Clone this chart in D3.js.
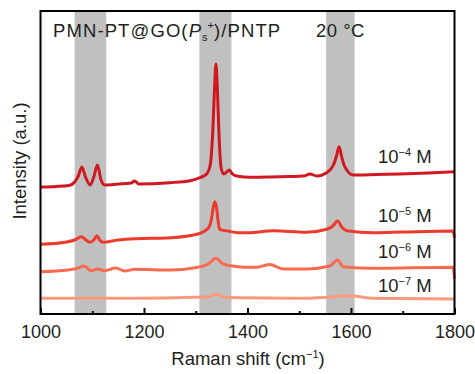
<!DOCTYPE html>
<html>
<head>
<meta charset="utf-8">
<script src="https://cdn.jsdelivr.net/npm/d3@7"></script>
<style>
  body { margin: 0; background: #fff; }
  svg { display: block; font-family: "Liberation Sans", Arial, sans-serif; }
  text { fill: #231f20; }
</style>
</head>
<body>
<svg id="chart" width="475" height="374"></svg>
<script>
// Raman shift (cm-1) and intensity (a.u., stacked offsets)
const shift4 = [1000,1030,1055,1066,1073,1080,1087,1096,1103,1110,1117,1124,1150,1175,1182,1190,1250,1289,1308,1321,1328,1333,1336,1339,1342,1345,1349,1354,1360,1365,1371,1379,1405,1444,1480,1508,1521,1534,1553,1566,1572,1577,1582,1588,1604,1650,1695,1750,1800]
const int4   = [127,127.5,128.5,132,138,147,137,129,137,149,134,129,130,131,133,130,131.3,133.3,136.3,140,149,184,222,250,222,179,146,140,142,144,140,138,136.7,137,137.5,138,140,138,141.3,149,158,167.3,157,147.3,139,139.5,140,141,142.3]

const shift5 = [1000,1047,1066,1079,1088,1095,1103,1109,1115,1121,1150,1182,1253,1304,1324,1330,1334,1337,1340,1343,1346,1362,1382,1401,1450,1514,1553,1565,1574,1582,1592,1643,1700,1797,1800]
const int5   = [69.7,71.7,74,77.3,74,71.7,74,78.3,73.5,71.7,74,75.3,76.3,80,85.7,94,107,112.3,107,94,84.7,83,81.3,81.3,83.3,81.7,84.7,88,93,87,83.3,81.3,82,83,76]

const shift6 = [1000,1053,1072,1084,1098,1111,1124,1145,1163,1182,1253,1298,1324,1339,1353,1382,1401,1418,1443,1469,1514,1559,1574,1585,1643,1797,1800]
const int6   = [42.3,44,45.7,48,43.3,45,43.3,46,43,44.7,44,46.3,50,55.7,50,47.3,46.7,46.7,49.5,45,45,48,54,47.3,45.7,46.7,35]

const shift7 = [1000,1184,1298,1324,1339,1353,1385,1514,1553,1585,1604,1643,1800]
const int7   = [15.7,15.7,16.7,17.3,19.7,17.3,16.3,15.7,16.7,18,18,15.7,15]

const seriesNames = ['−4', '−5', '−6', '−7']
const seriesColors = ['#cf1820', '#ec3a2d', '#f86b50', '#fc9a80']
const labelBaselines = [163, 222, 258, 292]   // label positions (px)

// shaded band ranges (cm-1)
const bands = [[1066, 1127], [1307, 1369], [1552, 1607]]
const majorTicks = [1000, 1200, 1400, 1600, 1800]
const minorTicks = [1100, 1300, 1500, 1700]

const L = 40.5, R = 454.5, T = 11, B = 314
const svg = d3.select('#chart')
const x = d3.scaleLinear().domain([1000, 1800]).range([L, R])
const y = d3.scaleLinear().domain([0, 303]).range([B, T])

// bands
svg.append('g').selectAll('rect').data(bands).enter().append('rect')
  .attr('x', d => x(d[0])).attr('width', d => x(d[1]) - x(d[0]))
  .attr('y', T).attr('height', B - T)
  .attr('fill', '#c0c0c0')

// spectra
const series = [[shift4, int4], [shift5, int5], [shift6, int6], [shift7, int7]]
const line = d3.line().x(d => x(d[0])).y(d => y(d[1])).curve(d3.curveMonotoneX)
svg.append('g').selectAll('path').data(series).enter().append('path')
  .attr('d', d => line(d[0].map((s, i) => [s, d[1][i]])))
  .attr('fill', 'none')
  .attr('stroke', (d, i) => seriesColors[i])
  .attr('stroke-width', 3)
  .attr('stroke-linejoin', 'round')

// axes (inward ticks)
const gx = svg.append('g').attr('transform', `translate(0,${B})`)
  .call(d3.axisBottom(x).tickValues(majorTicks).tickFormat(d3.format('d')).tickSizeInner(-6).tickSizeOuter(0).tickPadding(11))
gx.select('.domain').remove()
gx.selectAll('line').attr('stroke', '#000').attr('stroke-width', 2)
gx.selectAll('text').attr('font-size', 18).attr('fill', '#231f20').style('font-family', '"Liberation Sans", Arial, sans-serif')
const gm = svg.append('g').attr('transform', `translate(0,${B})`)
  .call(d3.axisBottom(x).tickValues(minorTicks).tickFormat('').tickSizeInner(-3).tickSizeOuter(0))
gm.select('.domain').remove()
gm.selectAll('line').attr('stroke', '#000').attr('stroke-width', 2)

// frame
svg.append('rect').attr('x', L).attr('y', T).attr('width', R - L).attr('height', B - T)
  .attr('fill', 'none').attr('stroke', '#000').attr('stroke-width', 2)

// concentration labels
seriesNames.forEach((n, i) => {
  const t = svg.append('text').attr('x', 378).attr('y', labelBaselines[i]).attr('font-size', 18.5)
  t.append('tspan').text('10')
  t.append('tspan').attr('dy', -7).attr('font-size', 11).text(n)
  t.append('tspan').attr('dy', 7).text(' M')
})

// title
const title = svg.append('text').attr('x', 53).attr('y', 37).attr('font-size', 18.5).attr('letter-spacing', 1.1)
title.append('tspan').text('PMN-PT@GO(')
title.append('tspan').attr('font-style', 'italic').text('P')
title.append('tspan').attr('dy', 4).attr('font-size', 11).attr('letter-spacing', 0).text('s')
title.append('tspan').attr('dy', -12).attr('font-size', 11).attr('letter-spacing', 0).text('+')
title.append('tspan').attr('dy', 8).text(')/PNTP')
svg.append('text').attr('x', 316).attr('y', 37).attr('font-size', 18.5).attr('letter-spacing', 0.5).text('20 °C')

// axis titles
const xt = svg.append('text').attr('x', 248).attr('y', 365).attr('text-anchor', 'middle').attr('font-size', 18.5)
xt.append('tspan').text('Raman shift (cm')
xt.append('tspan').attr('dy', -7).attr('font-size', 11).text('−1')
xt.append('tspan').attr('dy', 7).text(')')
svg.append('text').attr('transform', 'translate(25.5,161) rotate(-90)').attr('text-anchor', 'middle')
  .attr('font-size', 18.5).text('Intensity (a.u.)')
</script>
</body>
</html>
